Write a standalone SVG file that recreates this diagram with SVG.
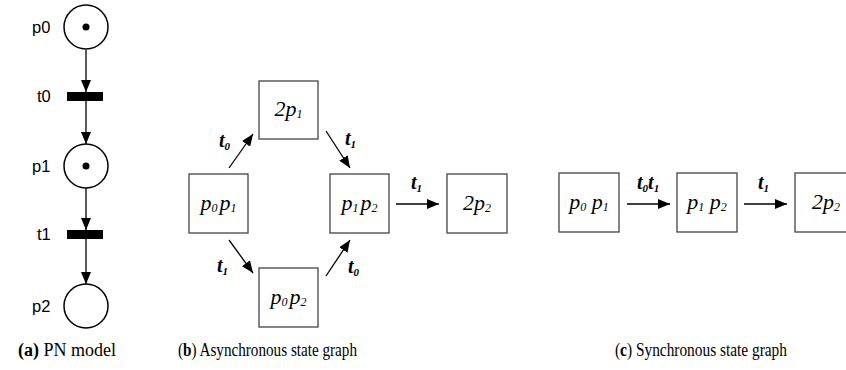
<svg xmlns="http://www.w3.org/2000/svg" width="846" height="370" viewBox="0 0 846 370">
<defs>
<marker id="ah" markerUnits="userSpaceOnUse" markerWidth="13" markerHeight="10" refX="12" refY="5" orient="auto">
<path d="M0,0 L12,5 L0,10 z" fill="#000"/>
</marker>
<style>
.pl{fill:#fff;stroke:#000;stroke-width:1.5}
.tok{fill:#000}
.bar{fill:#000}
.lbl{font-family:"Liberation Sans",Arial,sans-serif;font-size:16.5px;fill:#000}
.box{fill:#fff;stroke:#444;stroke-width:1.3}
.st{font-family:"Liberation Serif","Times New Roman",serif;font-style:italic;font-size:22px;fill:#000}
.sub{font-size:12px}
.el{font-family:"Liberation Serif","Times New Roman",serif;font-style:italic;font-weight:bold;font-size:20px;fill:#000}
.esub{font-size:11px}
.cap{font-family:"Liberation Serif","Times New Roman",serif;font-size:18px;fill:#000}
.edge{stroke:#000;stroke-width:1.3;fill:none;marker-end:url(#ah)}
</style>
</defs>
<rect width="846" height="370" fill="#fff"/>

<g id="connectors">
<line class="edge" x1="86" y1="50" x2="86" y2="92"/>
<line class="edge" x1="86" y1="101" x2="86" y2="144"/>
<line class="edge" x1="86" y1="188" x2="86" y2="230"/>
<line class="edge" x1="86" y1="239" x2="86" y2="284"/>
<line class="edge" x1="229" y1="168" x2="253" y2="134"/>
<line class="edge" x1="326" y1="131" x2="350" y2="168"/>
<line class="edge" x1="229" y1="240" x2="253" y2="273"/>
<line class="edge" x1="326" y1="276" x2="350" y2="240"/>
<line class="edge" x1="396" y1="204" x2="439" y2="204"/>
<line class="edge" x1="627" y1="204" x2="670" y2="204"/>
<line class="edge" x1="744" y1="204" x2="787" y2="204"/>
<text class="el" x="219" y="147">t<tspan class="esub" dy="3">0</tspan></text>
<text class="el" x="345" y="145">t<tspan class="esub" dy="3">1</tspan></text>
<text class="el" x="217" y="272">t<tspan class="esub" dy="3">1</tspan></text>
<text class="el" x="348" y="273">t<tspan class="esub" dy="3">0</tspan></text>
<text class="el" x="411" y="189">t<tspan class="esub" dy="3">1</tspan></text>
<text class="el" x="637" y="189">t<tspan class="esub" dy="3">0</tspan><tspan dy="-3">t</tspan><tspan class="esub" dy="3">1</tspan></text>
<text class="el" x="758" y="189">t<tspan class="esub" dy="3">1</tspan></text>
</g>

<g id="p0"><circle class="pl" cx="86" cy="27" r="22"/><circle class="tok" cx="86" cy="27" r="3.5"/><text class="lbl" x="32" y="33">p0</text></g>
<g id="t0"><rect class="bar" x="67" y="92" width="36" height="9"/><text class="lbl" x="37" y="102">t0</text></g>
<g id="p1"><circle class="pl" cx="86" cy="166" r="22"/><circle class="tok" cx="86" cy="166" r="3.5"/><text class="lbl" x="32" y="172">p1</text></g>
<g id="t1"><rect class="bar" x="67" y="230" width="36" height="9"/><text class="lbl" x="37" y="240">t1</text></g>
<g id="p2"><circle class="pl" cx="86" cy="306" r="22"/><text class="lbl" x="32" y="312">p2</text></g>

<g id="a_p0p1"><rect class="box" x="189" y="174" width="59" height="59"/><text class="st" x="218.5" y="210" text-anchor="middle">p<tspan class="sub" dy="2">0</tspan><tspan dx="2" dy="-2">p</tspan><tspan class="sub" dy="2">1</tspan></text></g>
<g id="a_2p1"><rect class="box" x="259" y="81" width="59" height="58"/><text class="st" x="288.5" y="116" text-anchor="middle">2p<tspan class="sub" dy="2">1</tspan></text></g>
<g id="a_p0p2"><rect class="box" x="259" y="268" width="59" height="59"/><text class="st" x="288.5" y="304" text-anchor="middle">p<tspan class="sub" dy="2">0</tspan><tspan dx="2" dy="-2">p</tspan><tspan class="sub" dy="2">2</tspan></text></g>
<g id="a_p1p2"><rect class="box" x="330" y="174" width="59" height="59"/><text class="st" x="359.5" y="210" text-anchor="middle">p<tspan class="sub" dy="2">1</tspan><tspan dx="2" dy="-2">p</tspan><tspan class="sub" dy="2">2</tspan></text></g>
<g id="a_2p2"><rect class="box" x="447" y="174" width="60" height="59"/><text class="st" x="477" y="210" text-anchor="middle">2p<tspan class="sub" dy="2">2</tspan></text></g>

<g id="s_p0p1"><rect class="box" x="559" y="173" width="60" height="59"/><text class="st" x="589" y="209" text-anchor="middle">p<tspan class="sub" dy="2">0</tspan><tspan dy="-2"> p</tspan><tspan class="sub" dy="2">1</tspan></text></g>
<g id="s_p1p2"><rect class="box" x="677" y="173" width="60" height="59"/><text class="st" x="707" y="209" text-anchor="middle">p<tspan class="sub" dy="2">1</tspan><tspan dy="-2"> p</tspan><tspan class="sub" dy="2">2</tspan></text></g>
<g id="s_2p2"><rect class="box" x="795" y="173" width="60" height="59"/><text class="st" x="826" y="209" text-anchor="middle">2p<tspan class="sub" dy="2">2</tspan></text></g>

<text class="cap" x="18" y="356" font-size="19"><tspan font-weight="bold">(a)</tspan> PN model</text>
<text class="cap" x="178" y="356" textLength="179" lengthAdjust="spacingAndGlyphs">(<tspan font-weight="bold">b</tspan>) Asynchronous state graph</text>
<text class="cap" x="615" y="356" textLength="172" lengthAdjust="spacingAndGlyphs">(<tspan font-weight="bold">c</tspan>) Synchronous state graph</text>
</svg>
